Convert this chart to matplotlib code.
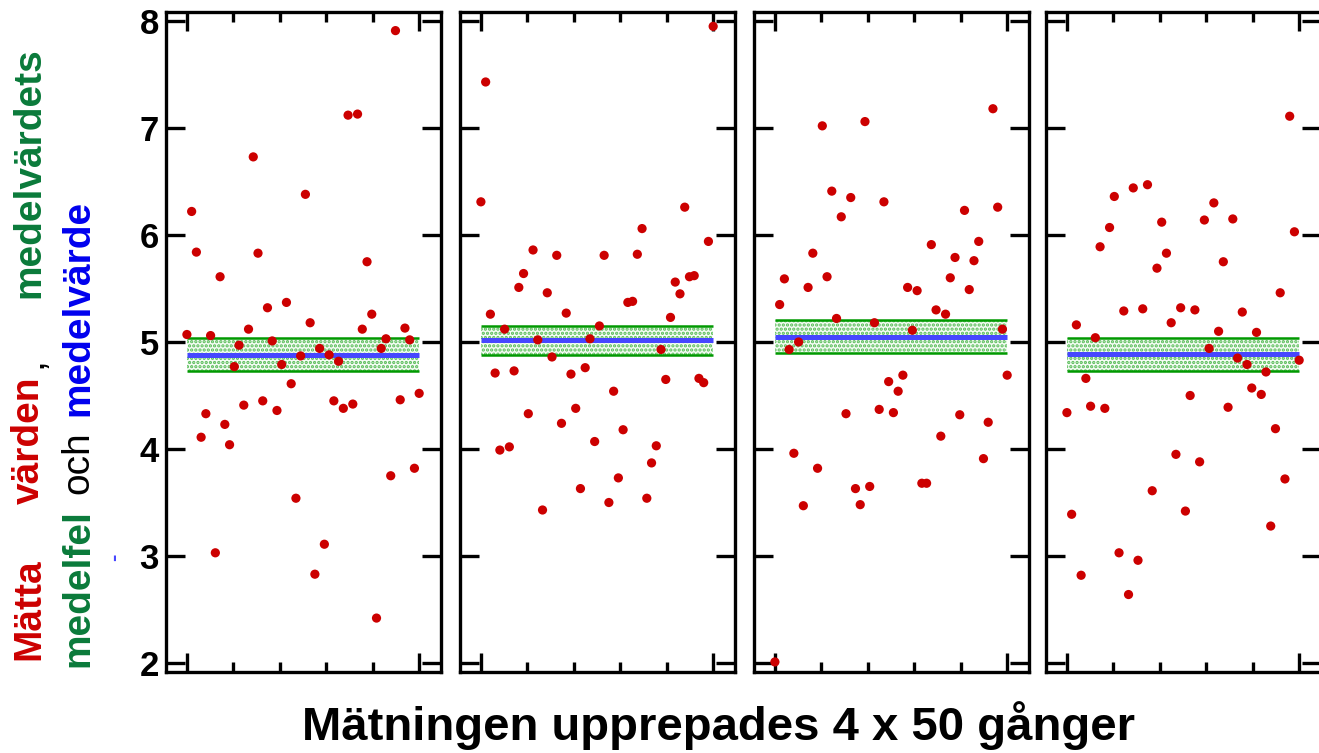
import matplotlib
matplotlib.use('Agg')

import numpy as np
import matplotlib.pyplot as plt

plt.rcParams['font.family'] = ['Liberation Sans', 'DejaVu Sans']
plt.rcParams['hatch.linewidth'] = 1.6

series_1 = [5.07, 6.22, 5.84, 4.11, 4.33, 5.06, 3.03, 5.61, 4.23, 4.04,
            4.77, 4.97, 4.41, 5.12, 6.73, 5.83, 4.45, 5.32, 5.01, 4.36,
            4.79, 5.37, 4.61, 3.54, 4.87, 6.38, 5.18, 2.83, 4.94, 3.11,
            4.88, 4.45, 4.82, 4.38, 7.12, 4.42, 7.13, 5.12, 5.75, 5.26,
            2.42, 4.94, 5.03, 3.75, 7.91, 4.46, 5.13, 5.02, 3.82, 4.52]
series_2 = [6.31, 7.43, 5.26, 4.71, 3.99, 5.12, 4.02, 4.73, 5.51, 5.64,
            4.33, 5.86, 5.02, 3.43, 5.46, 4.86, 5.81, 4.24, 5.27, 4.70,
            4.38, 3.63, 4.76, 5.03, 4.07, 5.15, 5.81, 3.50, 4.54, 3.73,
            4.18, 5.37, 5.38, 5.82, 6.06, 3.54, 3.87, 4.03, 4.93, 4.65,
            5.23, 5.56, 5.45, 6.26, 5.61, 5.62, 4.66, 4.62, 5.94, 7.95]
series_3 = [2.01, 5.35, 5.59, 4.93, 3.96, 5.00, 3.47, 5.51, 5.83, 3.82,
            7.02, 5.61, 6.41, 5.22, 6.17, 4.33, 6.35, 3.63, 3.48, 7.06,
            3.65, 5.18, 4.37, 6.31, 4.63, 4.34, 4.54, 4.69, 5.51, 5.11,
            5.48, 3.68, 3.68, 5.91, 5.30, 4.12, 5.26, 5.60, 5.79, 4.32,
            6.23, 5.49, 5.76, 5.94, 3.91, 4.25, 7.18, 6.26, 5.12, 4.69]
series_4 = [4.34, 3.39, 5.16, 2.82, 4.66, 4.40, 5.04, 5.89, 4.38, 6.07,
            6.36, 3.03, 5.29, 2.64, 6.44, 2.96, 5.31, 6.47, 3.61, 5.69,
            6.12, 5.83, 5.18, 3.95, 5.32, 3.42, 4.50, 5.30, 3.88, 6.14,
            4.94, 6.30, 5.10, 5.75, 4.39, 6.15, 4.85, 5.28, 4.79, 4.57,
            5.09, 4.51, 4.72, 3.28, 4.19, 5.46, 3.72, 7.11, 6.03, 4.83]
all_series = [series_1, series_2, series_3, series_4]

means = [4.88, 5.015, 5.05, 4.885]
std_errors = [0.155, 0.135, 0.155, 0.157]

y_ticks = [2, 3, 4, 5, 6, 7, 8]
N = 50

RED = '#cc0000'
BLUE = '#4646ff'
TEXT_BLUE = '#0000ee'
GREEN = '#009900'
TEXT_GREEN = '#0a7a3a'

W, H = 1319, 753
fig = plt.figure(figsize=(W / 100, H / 100), dpi=100)
fig.patch.set_facecolor('white')

panel_left = [166, 460, 754, 1046]
panel_w = 275
panel_top, panel_bottom = 12, 672

xpos = np.arange(N) * 50 / (N - 1)

for k, values in enumerate(all_series):
    ax = fig.add_axes([panel_left[k] / W, (H - panel_bottom) / H,
                       panel_w / W, (panel_bottom - panel_top) / H])
    m, se = means[k], std_errors[k]

    ax.fill_between([0, 50], m - se, m + se, facecolor='#f4fcf4',
                    edgecolor='#55bb55', hatch='....', linewidth=0, zorder=1)
    ax.hlines([m - se, m + se], 0, 50, colors=GREEN, linewidth=1.8, zorder=2)
    ax.hlines(m, 0, 50, colors=BLUE, linewidth=3.6, zorder=3)
    ax.scatter(xpos, values, s=44, color=RED, edgecolors='none', zorder=4)

    ax.set_xlim(-4.5, 54.7)
    ax.set_ylim(1.916, 8.084)

    for sp in ax.spines.values():
        sp.set_linewidth(2.4)
        sp.set_color('black')

    ax.set_yticks(y_ticks)
    ax.set_xticks([0, 50])
    ax.set_xticks([10, 20, 30, 40], minor=True)
    ax.tick_params(axis='y', which='major', direction='in', left=True, right=True,
                   length=14, width=2.4, pad=5, labelsize=25)
    ax.tick_params(axis='x', which='major', direction='in', top=True, bottom=True,
                   length=13.5, width=2.4, labelbottom=False)
    ax.tick_params(axis='x', which='minor', direction='in', top=True, bottom=True,
                   length=7, width=2.4)
    if k == 0:
        for lab in ax.get_yticklabels():
            lab.set_fontweight('bold')
    else:
        ax.tick_params(axis='y', labelleft=False)

# x label
fig.text(719 / W, (H - 726) / H, 'Mätningen upprepades 4 x 50 gånger',
         ha='center', va='center', fontsize=34, fontweight='bold')

# y label, two rotated columns of coloured words
def ylab(txt, x_px, y_px, color, weight='bold', size=28):
    fig.text(x_px / W, (H - y_px) / H, txt, rotation=90, ha='center',
             va='bottom', color=color, fontsize=size, fontweight=weight)

ylab('Mätta', 29, 660, RED)
ylab('värden', 29, 504, RED)
fig.text(31 / W, (H - 368) / H, ',', rotation=90, ha='center', va='bottom',
         color='black', fontsize=28)
ylab('medelvärdets', 29, 298, TEXT_GREEN)

ylab('medelfel', 78, 667, TEXT_GREEN)
ylab('och', 78, 494, 'black', weight='normal')
ylab('medelvärde', 78, 416, TEXT_BLUE)
fig.text(115 / W, (H - 557) / H, '-', rotation=90, ha='center', va='center',
         color=BLUE, fontsize=16, fontweight='bold')

fig.savefig('out.png', dpi=100, facecolor='white')
